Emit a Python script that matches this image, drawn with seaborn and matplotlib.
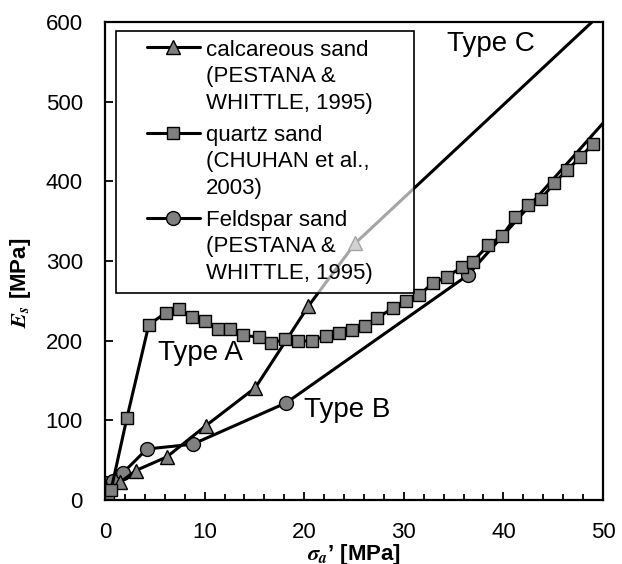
import numpy as np
import matplotlib
matplotlib.use("Agg")
import matplotlib.pyplot as plt
import seaborn as sns
from matplotlib.legend_handler import HandlerLine2D
from matplotlib.lines import Line2D
from matplotlib.ticker import MultipleLocator

# Calcareous sand (Pestana & Whittle, 1995)
calc_x = [0.2, 1.5, 3.1, 6.2, 10.1, 15.1, 20.4, 25.1]
calc_y = [5, 22, 37, 54, 93, 141, 243, 322]
# Type C trend continuing the calcareous data
typec_x = [25.1, 48.9]
typec_y = [322, 600]

# Quartz sand (Chuhan et al., 2003)
quartz_x = [0.3, 0.6, 2.2, 4.4, 6.1, 7.4, 8.7, 10.0, 11.3, 12.6, 13.9, 15.5,
            16.7, 18.1, 19.4, 20.8, 22.2, 23.5, 24.8, 26.1, 27.3, 28.9, 30.2,
            31.5, 32.9, 34.3, 35.8, 36.9, 38.5, 39.9, 41.2, 42.5, 43.8, 45.1,
            46.4, 47.7, 49.0]
quartz_y = [2, 12, 103, 220, 235, 240, 230, 225, 215, 215, 207, 204,
            197, 202, 199, 200, 206, 210, 213, 218, 228, 241, 250,
            257, 272, 280, 292, 299, 320, 332, 355, 370, 378, 398,
            414, 430, 447]

# Feldspar sand (Pestana & Whittle, 1995)
feld_x = [0.0, 0.8, 1.8, 4.2, 8.8, 18.2, 36.4]
feld_y = [21, 24, 34, 64, 70, 122, 282]
# Type B trend continuing the feldspar data
typeb_x = [36.4, 50.0]
typeb_y = [282, 473]

labels = ["calcareous sand\n(PESTANA &\nWHITTLE, 1995)",
          "quartz sand\n(CHUHAN et al.,\n2003)",
          "Feldspar sand\n(PESTANA &\nWHITTLE, 1995)"]
type_labels = ["Type A", "Type B", "Type C"]
type_pos = [(9.6, 184), (24.3, 113), (38.7, 573)]

sns.set_theme(style="white")
plt.rcParams["font.family"] = ["Liberation Sans", "DejaVu Sans"]
plt.rcParams["mathtext.fontset"] = "stix"
for key in ("text.color", "axes.labelcolor", "xtick.color", "ytick.color",
            "axes.edgecolor"):
    plt.rcParams[key] = "black"

FS = 16
LINESP = 1.33
face = "#808080"

fig = plt.figure(figsize=(6.22, 5.64), dpi=100)
ax = fig.add_axes([105 / 622, 1 - 500 / 564, 498 / 622, 478 / 564])

line_kw = dict(color="black", linewidth=2.2, markerfacecolor=face,
               markeredgecolor="black", markeredgewidth=1.0,
               estimator=None, sort=False, ax=ax)

# trend lines (drawn first, beneath the markers)
sns.lineplot(x=typec_x, y=typec_y, color="black", linewidth=2.2,
             estimator=None, sort=False, ax=ax, legend=False)
sns.lineplot(x=typeb_x, y=typeb_y, color="black", linewidth=2.2,
             estimator=None, sort=False, ax=ax, legend=False)

sns.lineplot(x=feld_x, y=feld_y, marker="o", markersize=10, **line_kw)
sns.lineplot(x=calc_x, y=calc_y, marker="^", markersize=10.5, **line_kw)
sns.lineplot(x=quartz_x, y=quartz_y, marker="s", markersize=8.5, **line_kw)

ax.set_xlim(0, 50)
ax.set_ylim(0, 600)
ax.xaxis.set_major_locator(MultipleLocator(10))
ax.xaxis.set_minor_locator(MultipleLocator(2))
ax.yaxis.set_major_locator(MultipleLocator(100))

for s in ax.spines.values():
    s.set_visible(True)
    s.set_color("black")
    s.set_linewidth(1.6)

ax.tick_params(axis="both", which="major", direction="in", length=6,
               width=1.3, color="black", labelsize=FS, pad=16,
               labelcolor="black")
ax.tick_params(axis="x", which="minor", direction="in", length=4,
               width=1.3, color="black", bottom=True)
ax.tick_params(axis="both", which="both", top=False, right=False)
ax.tick_params(axis="x", which="both", bottom=True)
ax.tick_params(axis="y", which="major", left=True)

ax.set_xlabel(r"$\mathbfit{\sigma}_\mathbfit{a}$’ [MPa]", fontsize=FS,
              fontweight="bold", labelpad=-1, color="black")
ax.set_ylabel(r"$\mathbfit{E}_\mathbfit{s}$ [MPa]", fontsize=FS,
              fontweight="bold", color="black")
ax.yaxis.set_label_coords(-0.145, 0.454)

for txt, (tx, ty) in zip(type_labels, type_pos):
    ax.text(tx, ty, txt, fontsize=20, ha="center", va="center",
            color="black")


class FirstLineHandler(HandlerLine2D):
    """Legend handle drawn at the right of its box, beside the first text line."""

    def create_artists(self, legend, orig_handle, xdescent, ydescent,
                       width, height, fontsize, trans):
        arts = super().create_artists(legend, orig_handle, xdescent,
                                      ydescent, width, height, fontsize,
                                      trans)
        seg = 2.4 * fontsize
        for a in arts:
            xd = np.asarray(a.get_xdata(), dtype=float)
            a.set_xdata(np.linspace(width - seg, width, len(xd)))
            a.set_ydata(np.asarray(a.get_ydata(), dtype=float)
                        + fontsize * LINESP)
        return arts


handles = [
    Line2D([], [], color="black", linewidth=2.2, marker="^", markersize=10.5,
           markerfacecolor=face, markeredgecolor="black"),
    Line2D([], [], color="black", linewidth=2.2, marker="s", markersize=8.5,
           markerfacecolor=face, markeredgecolor="black"),
    Line2D([], [], color="black", linewidth=2.2, marker="o", markersize=10,
           markerfacecolor=face, markeredgecolor="black"),
]
leg = ax.legend(handles, labels, handler_map={Line2D: FirstLineHandler(numpoints=1)},
                loc="upper left", bbox_to_anchor=(0.022, 0.40, 0.598, 0.581),
                mode="expand", borderaxespad=0, fontsize=FS, frameon=True,
                fancybox=False, handlelength=3.375, handletextpad=0.27,
                labelspacing=0.52, borderpad=0.4)
for t in leg.get_texts():
    t.set_linespacing(LINESP)
    t.set_color("black")
frame = leg.get_frame()
frame.set_alpha(None)
frame.set_facecolor((1, 1, 1, 0.65))
frame.set_edgecolor("black")
frame.set_linewidth(1.2)

fig.savefig("out.png", dpi=100)
